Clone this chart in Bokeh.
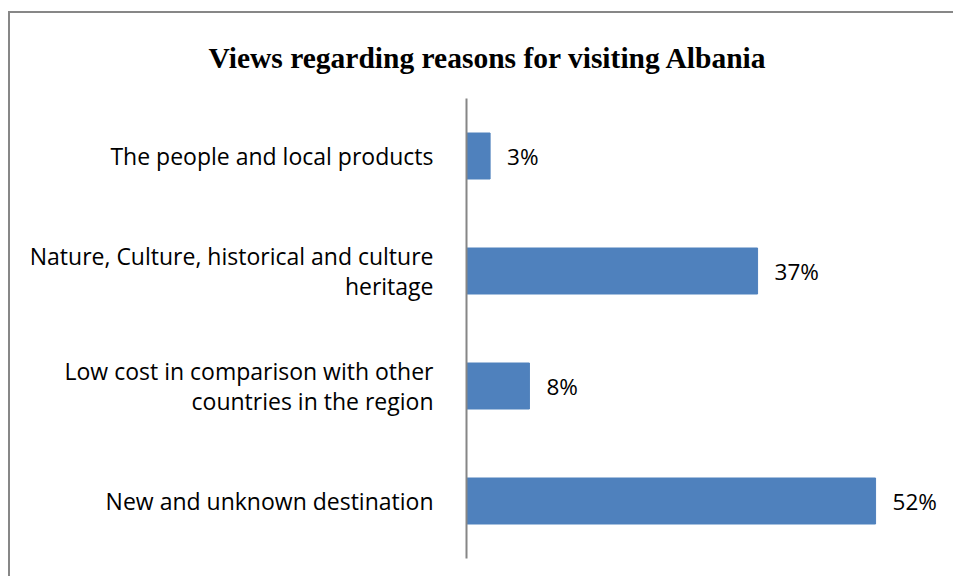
from bokeh.plotting import figure
from bokeh.models import FactorRange, Range1d, ColumnDataSource
from bokeh.core.properties import value
from bokeh.embed import file_html
from bokeh.resources import INLINE

title_text = "Views regarding reasons for visiting Albania"
categories = [
    "New and unknown destination",
    "Low cost in comparison with other\ncountries in the region",
    "Nature, Culture, historical and culture\nheritage",
    "The people and local products",
]
values = [52, 8, 37, 3]
value_labels = ["52%", "8%", "37%", "3%"]

BAR = "#4F81BD"
GRID = "#868686"
FONT = "Open Sans"

src = ColumnDataSource(dict(cat=categories, val=values, lab=value_labels))

p = figure(
    width=945, height=565,
    y_range=FactorRange(*categories),
    x_range=Range1d(0, 60),
    output_backend="svg", toolbar_location=None,
    min_border_left=456, min_border_right=17,
    min_border_top=85, min_border_bottom=20,
)
p.styles = {"margin-top": "11px", "margin-left": "8px",
            "border-top": "2px solid #878787", "border-left": "2px solid #878787"}
p.outline_line_color = None
p.xgrid.visible = False
p.ygrid.visible = False
p.xaxis.visible = False

p.title.text = title_text
p.title.align = "left"
p.title.offset = -258
p.title.standoff = 50
p.title.text_font = "Liberation Serif"
p.title.text_font_style = "bold"
p.title.text_font_size = "29.5px"
p.title.text_color = "black"

p.hbar(y="cat", right="val", left=0, height=0.4, source=src,
       fill_color=BAR, line_color=BAR)
p.text(x="val", y="cat", text="lab", source=src, x_offset=17,
       text_baseline="middle", text_align="left",
       text_font=value(FONT), text_font_size="22.5px", text_color="black")

ax = p.yaxis[0]
ax.axis_line_color = GRID
ax.axis_line_width = 2
ax.major_tick_line_color = None
ax.minor_tick_line_color = None
ax.major_label_standoff = 27
ax.major_label_text_font = FONT
ax.major_label_text_font_size = "23px"
ax.major_label_text_line_height = 0.95
ax.major_label_text_color = "black"

open("out.html", "w").write(file_html(p, INLINE))
